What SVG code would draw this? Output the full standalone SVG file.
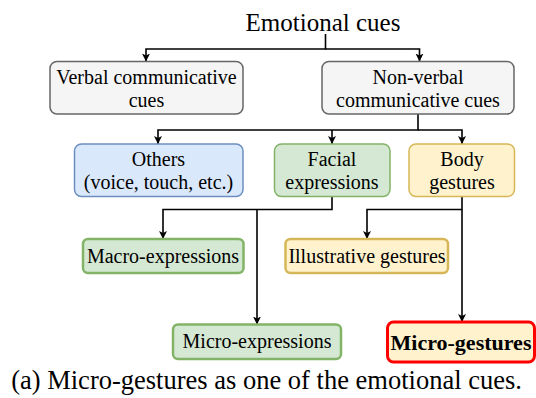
<svg xmlns="http://www.w3.org/2000/svg" width="536" height="398" viewBox="0 0 536 398">
<defs>
<marker id="arr" markerWidth="10" markerHeight="10" refX="8" refY="4.5" orient="auto" markerUnits="userSpaceOnUse">
<path d="M0,0.5 L8,4.5 L0,8.5 L2,4.5 z" fill="#000"/>
</marker>
<style>
.gray{fill:#f5f5f5;stroke:#666666;stroke-width:1.5}
.blue{fill:#dae8fc;stroke:#6c8ebf;stroke-width:1.5}
.green{fill:#d5e8d4;stroke:#82b366;stroke-width:1.5}
.yellow{fill:#fff2cc;stroke:#d6b656;stroke-width:1.5}
.green3{fill:#d5e8d4;stroke:#82b366;stroke-width:2.5}
.yellow3{fill:#fff2cc;stroke:#d6b656;stroke-width:2.5}
.red{fill:#fff2cc;stroke:#ff0000;stroke-width:3}
.c{fill:none;stroke:#000;stroke-width:1.6;marker-end:url(#arr)}
</style>
</defs>
<rect width="536" height="398" fill="#fff"/>
<g id="connectors">
<path class="c" d="M325.5,34 V49 H146 V61.5"/>
<path class="c" d="M325.5,49 H419.5 V61.5"/>
<path class="c" d="M418,114 V130 H158 V144"/>
<path class="c" d="M332,130 V144"/>
<path class="c" d="M418,130 H462 V144"/>
<path class="c" d="M332,197 V209.5 H163 V239"/>
<path class="c" d="M257,209.5 V324.5"/>
<path class="c" d="M462,197 V209.5 H367 V239"/>
<path class="c" d="M462,209.5 V322"/>
</g>
<g font-family="Liberation Serif, DejaVu Serif, serif" text-anchor="middle" fill="#000" font-size="20">
<g id="title">
<text x="323" y="31" font-size="25">Emotional cues</text>
</g>
<g id="verbal">
<rect class="gray" x="50" y="61.5" width="193" height="52.5" rx="7"/>
<text x="146.5" y="84">Verbal communicative</text>
<text x="146.5" y="107">cues</text>
</g>
<g id="nonverbal">
<rect class="gray" x="322" y="61.5" width="192" height="52.5" rx="7"/>
<text x="418" y="84">Non-verbal</text>
<text x="418" y="107">communicative cues</text>
</g>
<g id="others">
<rect class="blue" x="74.5" y="144" width="168.5" height="52.5" rx="7"/>
<text x="158.5" y="165.5">Others</text>
<text x="158.5" y="189">(voice, touch, etc.)</text>
</g>
<g id="facial">
<rect class="green" x="274.5" y="144" width="115.5" height="52.5" rx="7"/>
<text x="332" y="165.5">Facial</text>
<text x="332" y="189">expressions</text>
</g>
<g id="body">
<rect class="yellow" x="409" y="144" width="105.5" height="52.5" rx="7"/>
<text x="462" y="165.5">Body</text>
<text x="462" y="189">gestures</text>
</g>
<g id="macro">
<rect class="green3" x="83" y="239" width="160.5" height="34" rx="5"/>
<text x="163" y="262.5">Macro-expressions</text>
</g>
<g id="illustrative">
<rect class="yellow3" x="285.5" y="239" width="162.5" height="34" rx="5"/>
<text x="367" y="262.5">Illustrative gestures</text>
</g>
<g id="microexp">
<rect class="green3" x="173" y="324.5" width="168" height="34.5" rx="5"/>
<text x="257" y="348">Micro-expressions</text>
</g>
<g id="microgest">
<rect class="red" x="387.5" y="322" width="147" height="40" rx="6"/>
<text x="461" y="349.5" font-size="22" font-weight="bold">Micro-gestures</text>
</g>
<g id="caption">
<text x="266.5" y="389" font-size="26.5">(a) Micro-gestures as one of the emotional cues.</text>
</g>
</g>
</svg>
